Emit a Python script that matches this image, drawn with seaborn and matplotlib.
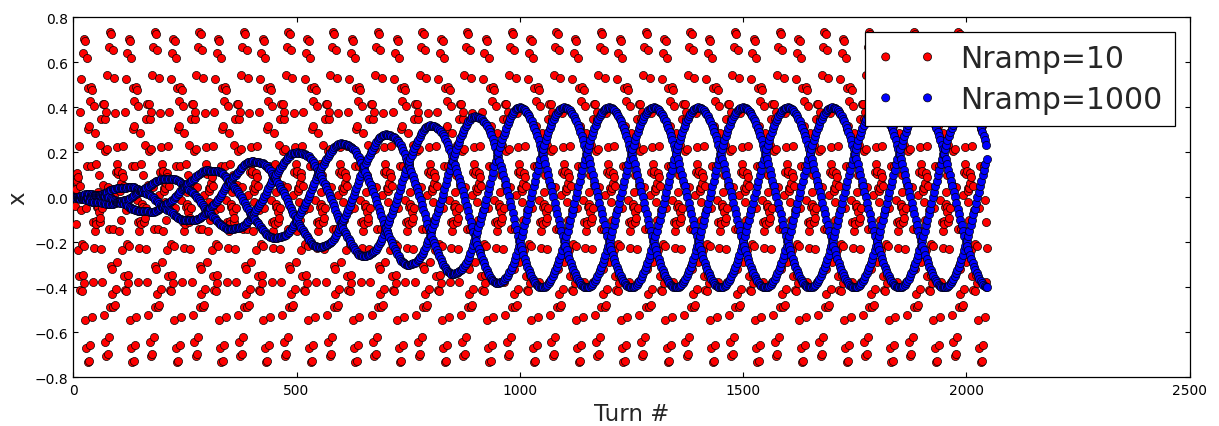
import numpy as np
import pandas as pd
import matplotlib
matplotlib.use("Agg")
import matplotlib.pyplot as plt
import seaborn as sns

# ---- values ----
labels = ["Nramp=10", "Nramp=1000"]      # legend entries
ramp_turns = [10, 1000]                  # ramp length of each run (turns)
colors = ["red", "blue"]
n_turns = 2048                           # turns tracked (points end near 2048)
drive_amplitude = 0.4                    # steady driven amplitude (blue plateau)
drive_tune = 0.33                        # blue pattern repeats every 100 turns
free_tune = 0.31                         # red pattern (free oscillation) tune
xticks = [0, 500, 1000, 1500, 2000, 2500]
yticks = [-0.8, -0.6, -0.4, -0.2, 0.0, 0.2, 0.4, 0.6, 0.8]


def track(nramp, psi0, kick=1.0):
    """Turn-by-turn linear tracking with a ramped AC-dipole kick."""
    x, p = 0.0, 0.0
    out = np.zeros(n_turns)
    c, s = np.cos(2 * np.pi * free_tune), np.sin(2 * np.pi * free_tune)
    for n in range(n_turns):
        out[n] = x
        r = min(n / nramp, 1.0)
        p += kick * r * np.cos(2 * np.pi * drive_tune * n + psi0)
        x, p = c * x + s * p, -s * x + c * p
    return out


turns = np.arange(n_turns)
# phase/amplitude of the driven response, so that it peaks at multiples of 100 turns
ref = track(ramp_turns[-1], 0.0)
sel = turns > 1100
M = np.column_stack([np.cos(2 * np.pi * drive_tune * turns[sel]),
                     np.sin(2 * np.pi * drive_tune * turns[sel])])
ca, cb = np.linalg.lstsq(M, ref[sel], rcond=None)[0]
psi = np.arctan2(-cb, ca)
amp = np.hypot(ca, cb)

frames = []
for lab, nr in zip(labels, ramp_turns):
    xs = track(nr, -psi) * drive_amplitude / amp
    frames.append(pd.DataFrame({"turn": turns, "x": xs, "run": lab}))

# ---- styling ----
sns.set_style("ticks")
plt.rcParams.update({
    "font.family": ["DejaVu Sans"],
    "xtick.direction": "in", "ytick.direction": "in",
    "xtick.top": True, "ytick.right": True,
    "xtick.major.size": 3.5, "ytick.major.size": 3.5,
    "xtick.major.width": 0.8, "ytick.major.width": 0.8,
    "xtick.major.pad": 4, "ytick.major.pad": 3.5,
    "axes.linewidth": 0.9, "axes.edgecolor": "black",
    "xtick.color": "black", "ytick.color": "black",
})

fig = plt.figure(figsize=(12.19, 4.27), dpi=100)
ax = fig.add_axes([0.0601, 0.1140, 0.9758 - 0.0601, 0.9567 - 0.1140])

for df, col in zip(frames, colors):
    sns.scatterplot(data=df, x="turn", y="x", color=col, edgecolor="black",
                    linewidth=0.5, s=34, label=df["run"].iloc[0], ax=ax, zorder=3)

ax.set_xlim(xticks[0], xticks[-1])
ax.set_ylim(yticks[0], yticks[-1])
ax.set_xticks(xticks)
ax.set_yticks(yticks)
ax.set_xticklabels([str(v) for v in xticks])
ax.set_yticklabels([f"{v:.1f}".replace("-", "\u2212") for v in yticks])
ax.tick_params(labelsize=10)
ax.set_xlabel("Turn #", fontsize=16.5, labelpad=4)
ax.set_ylabel("x", fontsize=16.5, labelpad=4)
for sp in ax.spines.values():
    sp.set_visible(True)

leg = ax.legend(loc="upper right", fontsize=21.5, scatterpoints=2,
                scatteryoffsets=[0.5], frameon=True, fancybox=False,
                framealpha=1, edgecolor="black", borderpad=0.4,
                handlelength=2.0, handletextpad=0.8, labelspacing=0.4,
                borderaxespad=0.5)
leg.get_frame().set_linewidth(0.9)
leg.set_zorder(10)

fig.savefig("out.png", dpi=100)
